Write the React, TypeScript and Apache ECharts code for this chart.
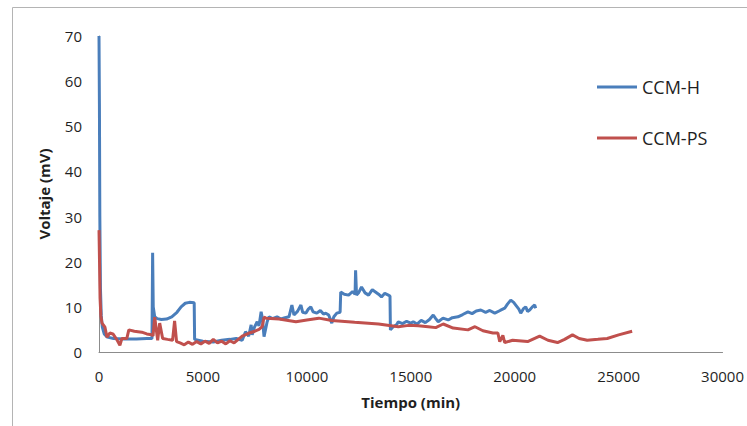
import React, { useEffect, useRef } from "react";
import * as echarts from "echarts";

const seriesNames = ["CCM-H", "CCM-PS"];
const xTicks = { min: 0, max: 30000, interval: 5000 };
const yTicks = { min: 0, max: 70, interval: 10 };

// CCM-H: [time (min), voltage (mV)]
const ccmH: number[][] = [
  [0, 70], [20, 55], [40, 30], [70, 14], [110, 8], [160, 5.5], [250, 4], [400, 3.3], [700, 3], [1200, 2.9],
  [1800, 2.9], [2300, 3], [2550, 3], [2580, 22], [2610, 10], [2680, 7.8], [2800, 7.4], [3000, 7.2], [3250, 7.3],
  [3500, 7.8], [3750, 8.8], [3950, 10], [4150, 10.8], [4350, 11], [4580, 10.9], [4600, 2.8], [5000, 2.4],
  [5500, 2.2], [5900, 2.6], [6300, 2.8], [6600, 3], [6890, 2.6], [7050, 4.5], [7200, 3.5], [7320, 6], [7370, 3.8],
  [7480, 5.5], [7610, 6.7], [7700, 5.8], [7800, 8.9], [7860, 7.5], [7940, 3.4], [8090, 6.7], [8180, 7.8],
  [8350, 7.4], [8565, 7.8], [8750, 7.3], [8950, 7.6], [9140, 7.8], [9280, 10.4], [9380, 8.2], [9550, 9],
  [9715, 10.4], [9800, 8.8], [9950, 8.6], [10070, 9.5], [10190, 10], [10300, 8.9], [10480, 8.6], [10650, 9.2],
  [10800, 8.4], [10910, 8.6], [11050, 8.2], [11200, 6.4], [11300, 7.8], [11440, 8.6], [11600, 8.8], [11630, 13.3],
  [11800, 12.8], [12010, 12.6], [12200, 13.4], [12320, 12.8], [12345, 18.1], [12390, 12.6], [12500, 13.2],
  [12630, 14.4], [12800, 13.1], [12970, 12.6], [13150, 13.8], [13300, 13.3], [13450, 12.8], [13590, 12.2],
  [13750, 13], [13920, 12.6], [14000, 12.4], [14020, 4.9], [14150, 5.6], [14310, 6], [14400, 6.7], [14600, 6.3],
  [14800, 6.8], [15000, 6.4], [15120, 6.7], [15300, 6.2], [15500, 7], [15700, 6.5], [15900, 7.2], [16080, 8.2],
  [16200, 7.4], [16320, 6.7], [16550, 7.5], [16800, 7.1], [17000, 7.6], [17270, 7.8], [17500, 8.3], [17750, 8.9],
  [17950, 8.5], [18150, 9.1], [18370, 9.3], [18600, 8.8], [18800, 9.2], [19040, 8.6], [19300, 9.2], [19520, 9.7],
  [19650, 10.6], [19810, 11.5], [19950, 11], [20050, 10.4], [20200, 9.5], [20290, 8.6], [20420, 9.6], [20530, 10],
  [20620, 9], [20720, 9.3], [20850, 10], [20960, 10.4], [21010, 9.7],
];

// CCM-PS: [time (min), voltage (mV)]
const ccmPS: number[][] = [
  [0, 27], [25, 20], [50, 12], [90, 8], [144, 6.4], [287, 5.5], [383, 3.3], [520, 4.2], [670, 4], [850, 2.8],
  [1005, 1.5], [1100, 3], [1340, 3], [1435, 4.9], [1700, 4.6], [2058, 4.4], [2300, 4], [2536, 3.8], [2600, 3.6],
  [2680, 7.7], [2823, 2.6], [2920, 6.4], [3062, 3], [3300, 2.8], [3540, 2.6], [3637, 6.9], [3732, 2.3], [3900, 2],
  [4100, 1.6], [4300, 2.2], [4500, 1.7], [4700, 2.3], [4900, 1.8], [5100, 2.4], [5300, 1.9], [5500, 2.8],
  [5700, 2], [5900, 2.4], [6100, 1.8], [6300, 2.5], [6500, 2], [6700, 2.8], [6890, 3.5], [7225, 4.2], [7500, 4.6],
  [7700, 5], [7850, 5.6], [7940, 7.7], [8040, 7.5], [8660, 7.3], [9100, 7], [9475, 6.7], [10000, 7.1],
  [10575, 7.5], [11200, 7], [12300, 6.6], [13450, 6.2], [14400, 5.6], [14900, 5.9], [15360, 5.8], [15840, 5.6],
  [16200, 5.4], [16560, 6.2], [17040, 5.3], [17750, 4.9], [18090, 5.6], [18470, 4.7], [18950, 4.2], [19190, 4.2],
  [19280, 2.3], [19430, 3.7], [19520, 2.1], [19900, 2.6], [20620, 2.3], [21200, 3.5], [21600, 2.6], [22060, 2.1],
  [22400, 2.8], [22780, 3.8], [23100, 3], [23490, 2.6], [24000, 2.8], [24450, 3], [25000, 3.8], [25650, 4.6],
];

const FONT = "'Open Sans', sans-serif";
const TEXT = "#1f1f1f";

export default function App() {
  const ref = useRef<HTMLDivElement>(null);
  useEffect(() => {
    if (!ref.current) return;
    const chart = echarts.init(ref.current, null, { renderer: "svg" });
    chart.setOption({
      animation: false,
      backgroundColor: "#ffffff",
      grid: { left: 99, right: 20, top: 36, bottom: 74, containLabel: false },
      graphic: [
        {
          type: "rect",
          shape: { x: 12.5, y: 7.5, width: 800, height: 500 },
          style: { fill: "none", stroke: "#b4b4b4", lineWidth: 1 },
          silent: true,
        },
      ],
      legend: {
        orient: "vertical",
        left: 597,
        top: 77,
        padding: 0,
        itemWidth: 40,
        itemHeight: 3,
        itemGap: 31,
        icon: "rect",
        data: seriesNames,
        textStyle: { fontFamily: FONT, fontSize: 18, color: TEXT, lineHeight: 20 },
      },
      xAxis: {
        type: "value",
        min: xTicks.min,
        max: xTicks.max,
        interval: xTicks.interval,
        name: "Tiempo (min)",
        nameLocation: "middle",
        nameGap: 42,
        nameTextStyle: { fontFamily: FONT, fontSize: 15, fontWeight: "bold", color: TEXT },
        axisLine: { show: true, lineStyle: { color: "#8c8c8c", width: 1 } },
        axisTick: { show: false },
        splitLine: { show: false },
        axisLabel: {
          fontFamily: FONT,
          fontSize: 15,
          color: TEXT,
          margin: 16,
          formatter: (v: number) => String(v),
        },
      },
      yAxis: {
        type: "value",
        min: yTicks.min,
        max: yTicks.max,
        interval: yTicks.interval,
        name: "Voltaje (mV)",
        nameLocation: "middle",
        nameRotate: 90,
        nameGap: 48,
        nameTextStyle: { fontFamily: FONT, fontSize: 15, fontWeight: "bold", color: TEXT },
        axisLine: { show: true, lineStyle: { color: "#8c8c8c", width: 1 } },
        axisTick: { show: false },
        splitLine: { show: false },
        axisLabel: { fontFamily: FONT, fontSize: 15, color: TEXT, margin: 17 },
      },
      series: [
        {
          name: seriesNames[0],
          type: "line",
          data: ccmH,
          symbol: "none",
          lineStyle: { color: "#4a7ebb", width: 3 },
          itemStyle: { color: "#4a7ebb" },
        },
        {
          name: seriesNames[1],
          type: "line",
          data: ccmPS,
          symbol: "none",
          lineStyle: { color: "#c0504d", width: 3 },
          itemStyle: { color: "#c0504d" },
        },
      ],
    });
    return () => chart.dispose();
  }, []);
  return (
    <div
      ref={ref}
      style={{ position: "fixed", left: 0, top: 0, width: 747, height: 426, background: "#fff" }}
    />
  );
}
